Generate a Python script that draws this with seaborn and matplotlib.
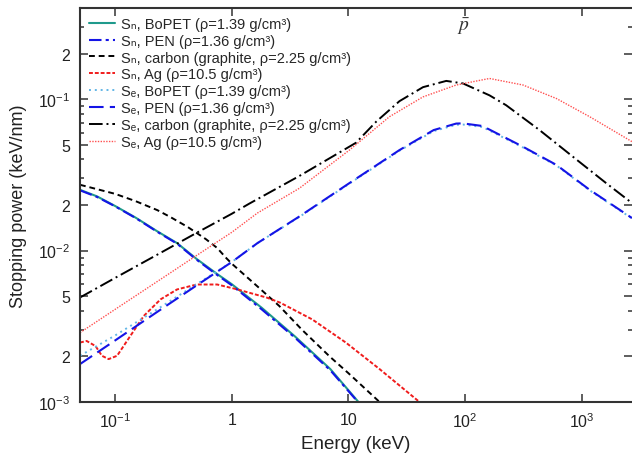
import seaborn as sns
import matplotlib.pyplot as plt
from matplotlib.ticker import NullLocator, FixedLocator

sns.set_theme(style="ticks")
plt.rcParams['font.family'] = ['Liberation Sans', 'DejaVu Sans']
plt.rcParams['mathtext.fontset'] = 'custom'
plt.rcParams['mathtext.rm'] = 'Liberation Sans'
plt.rcParams['mathtext.it'] = 'Liberation Sans:italic'
plt.rcParams['mathtext.bf'] = 'Liberation Sans:bold'

# energy (keV) / stopping power (keV/nm)
sn_poly_E = [0.05, 0.07, 0.1, 0.15, 0.23, 0.34, 0.5, 0.75, 1.0, 1.8, 3.5, 7.0, 12.2]
sn_bopet = [0.0252, 0.0228, 0.0197, 0.0165, 0.0134, 0.0112, 0.0088, 0.0070, 0.0060, 0.0042, 0.0027, 0.00165, 0.0010]
sn_pen = [0.0250, 0.0226, 0.0196, 0.0164, 0.0133, 0.0111, 0.0087, 0.0069, 0.0059, 0.0041, 0.00265, 0.00162, 0.00099]

sn_c_E = [0.05, 0.1, 0.15, 0.23, 0.3, 0.42, 0.6, 0.75, 0.9, 1.0, 1.66, 2.56, 4.0, 6.9, 10, 18.5]
sn_c = [0.0272, 0.0237, 0.0212, 0.0185, 0.0166, 0.0143, 0.0119, 0.0104, 0.0089, 0.0082, 0.0058,
        0.0043, 0.0030, 0.0020, 0.00155, 0.0010]

sn_ag_E = [0.05, 0.057, 0.068, 0.077, 0.088, 0.104, 0.135, 0.176, 0.245, 0.34, 0.5, 0.75,
           1.1, 1.5, 2.0, 2.6, 4.9, 9.5, 18.5, 40.7]
sn_ag = [0.00247, 0.00253, 0.00234, 0.00202, 0.00192, 0.00202, 0.00273, 0.0037, 0.00476, 0.00554,
         0.00597, 0.00597, 0.00556, 0.00520, 0.00489, 0.00453, 0.00351, 0.00247, 0.00165, 0.0010]

se_poly_E = [0.05, 0.1, 0.23, 0.5, 1.0, 1.66, 3.8, 10.2, 27.4, 53.8, 84, 96, 141, 314, 607, 1170, 2700]
se_bopet = [0.00202, 0.00275, 0.0041, 0.0060, 0.0084, 0.0112, 0.0167, 0.0277, 0.0457, 0.0615,
            0.0678, 0.0680, 0.0655, 0.0480, 0.0365, 0.0250, 0.0163]
se_pen = [0.00178, 0.00255, 0.00394, 0.00589, 0.0084, 0.0112, 0.0168, 0.0279, 0.0461, 0.0625,
          0.0690, 0.0692, 0.0665, 0.0485, 0.0368, 0.0252, 0.0164]

se_c_E = [0.05, 0.1, 0.23, 0.5, 1.0, 1.41, 3.8, 8.4, 11.6, 17.3, 27.4, 43.6, 69, 96, 162, 225,
          435, 840, 1620, 2700]
se_c = [0.0049, 0.0066, 0.0094, 0.0131, 0.0175, 0.0204, 0.0311, 0.0445, 0.0515, 0.0710, 0.097,
        0.120, 0.132, 0.127, 0.106, 0.0912, 0.0625, 0.0417, 0.0279, 0.0206]

se_ag_E = [0.05, 0.1, 0.23, 0.5, 1.0, 1.66, 3.8, 10.2, 22.5, 43.6, 84, 162, 314, 607, 1170, 2700]
se_ag = [0.00287, 0.00409, 0.00625, 0.00929, 0.0132, 0.0177, 0.0258, 0.0461, 0.0766, 0.1035,
         0.124, 0.137, 0.124, 0.101, 0.0766, 0.0524]

labels = [
    "S\u2099, BoPET (\u03c1=1.39 g/cm\u00b3)",
    "S\u2099, PEN (\u03c1=1.36 g/cm\u00b3)",
    "S\u2099, carbon (graphite, \u03c1=2.25 g/cm\u00b3)",
    "S\u2099, Ag (\u03c1=10.5 g/cm\u00b3)",
    "S\u2091, BoPET (\u03c1=1.39 g/cm\u00b3)",
    "S\u2091, PEN (\u03c1=1.36 g/cm\u00b3)",
    "S\u2091, carbon (graphite, \u03c1=2.25 g/cm\u00b3)",
    "S\u2091, Ag (\u03c1=10.5 g/cm\u00b3)",
]

xtick_vals = [0.1, 1, 10, 100, 1000]
xtick_labels = [r"10$^{-1}$", "1", "10", r"10$^{2}$", r"10$^{3}$"]
ytick_vals = [1e-3, 2e-3, 5e-3, 1e-2, 2e-2, 5e-2, 1e-1, 2e-1]
ytick_labels = [r"10$^{-3}$", "2", "5", r"10$^{-2}$", "2", "5", r"10$^{-1}$", "2"]

curves = [
    (sn_poly_E, sn_bopet, "#1f9a8c", "-", 1.5),
    (sn_poly_E, sn_pen, "#1414e6", (0, (6, 2, 1.5, 2)), 1.5),
    (sn_c_E, sn_c, "black", (0, (3, 2)), 1.4),
    (sn_ag_E, sn_ag, "#f01c1c", (0, (2, 1)), 1.4),
    (se_poly_E, se_bopet, "#62b6e6", (0, (1, 2)), 1.4),
    (se_poly_E, se_pen, "#1414e6", (0, (7, 3)), 1.5),
    (se_c_E, se_c, "black", (0, (7, 2, 1, 2)), 1.4),
    (se_ag_E, se_ag, "#ff5050", (0, (1, 1)), 1.0),
]

fig = plt.figure(figsize=(6.32, 4.64), dpi=100)
ax = fig.add_axes([80 / 632, 1 - 403 / 464, 552 / 632, 394 / 464])
ax.set_xscale('log')
ax.set_yscale('log')

for (E, S, col, ls, lw), lab in zip(curves, labels):
    sns.lineplot(x=E, y=S, ax=ax, color=col, linestyle=ls, linewidth=lw, label=lab)

ax.set_xlim(0.05, 2700)
ax.set_ylim(1e-3, 0.4)

ax.set_xticks(xtick_vals, labels=xtick_labels)
ax.xaxis.set_minor_locator(NullLocator())
ax.set_yticks(ytick_vals, labels=ytick_labels)
minor_y = [m * 10.0 ** d for d in (-3, -2, -1) for m in (3, 4, 6, 7, 8, 9)]
ax.yaxis.set_minor_locator(FixedLocator([v for v in minor_y if v < 0.4]))

ax.tick_params(which='both', direction='in', top=True, right=True, color='#333333',
               width=1.1, labelsize=11.5, pad=7, labelcolor='#222222')
ax.tick_params(which='major', length=6)
ax.tick_params(which='minor', length=3)
for s in ax.spines.values():
    s.set_color('#333333')
    s.set_linewidth(1.5)
ax.spines['right'].set_visible(False)

ax.set_xlabel("Energy (keV)", fontsize=13.5, labelpad=3, color='#222222')
ax.set_ylabel("Stopping power (keV/nm)", fontsize=13, labelpad=8, color='#222222')

ax.text(0.694, 0.955, r"$\bar{p}$", transform=ax.transAxes, fontsize=14,
        math_fontfamily='stix', ha='center', va='center', color='#333333')

ax.legend(loc='upper left', bbox_to_anchor=(0.0, 1.0), frameon=False,
          prop={'family': ['Liberation Sans', 'DejaVu Sans'], 'size': 10.5},
          handlelength=1.8, handletextpad=0.4, labelspacing=0.2, borderaxespad=0.3,
          borderpad=0.3)

fig.savefig('out.png', dpi=100)
